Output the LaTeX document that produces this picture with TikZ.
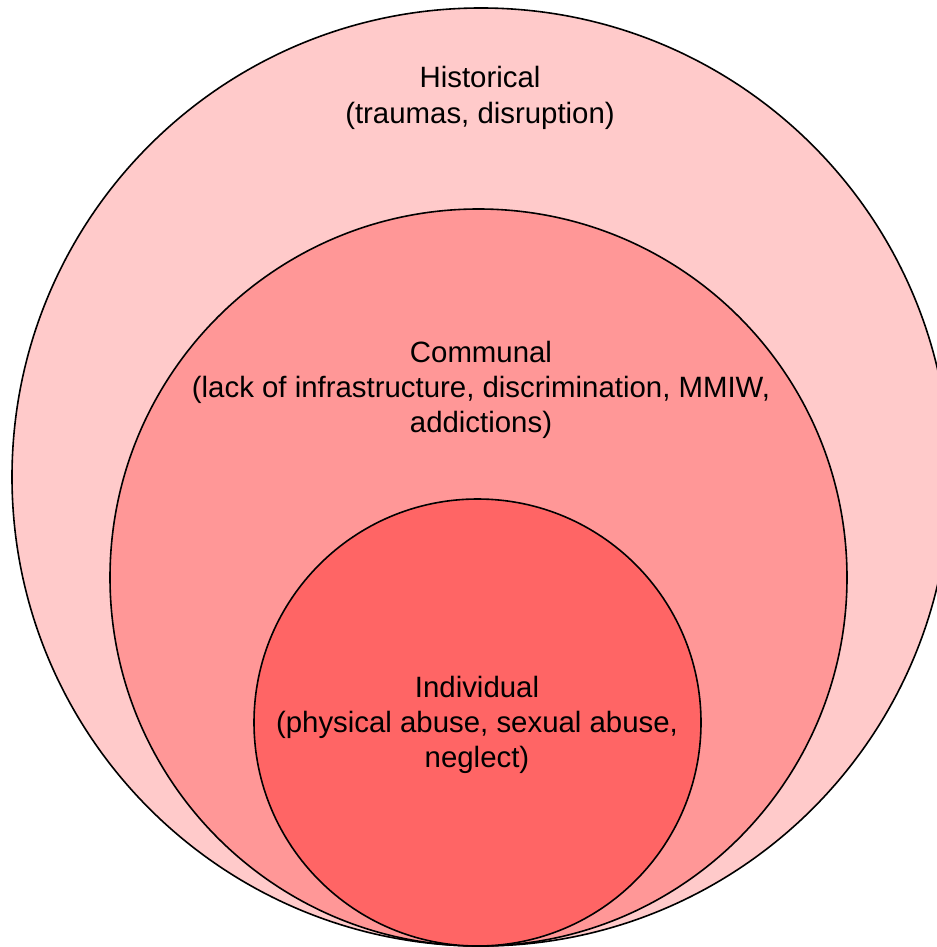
\documentclass[tikz,border=0pt]{standalone}
\usepackage{fontspec}
\setmainfont{Liberation Sans}
\definecolor{histfill}{HTML}{FFCACA}
\definecolor{commfill}{HTML}{FF9797}
\definecolor{indfill}{HTML}{FF6565}
\begin{document}
\begin{tikzpicture}[x=1bp,y=-1bp,
  ring/.style={circle, draw=black, line width=1.6bp, inner sep=0pt},
  label/.style={align=center, font=\fontsize{29.5}{35.5}\selectfont, inner sep=0pt}]
  \useasboundingbox (0,0) rectangle (937,947);
  % nested circles, all touching at the bottom
  \node[ring, fill=histfill, minimum size=938bp] (outer) at (481,477) {};
  \node[ring, fill=commfill, minimum size=737bp] (middle) at (478.5,577.5) {};
  \node[ring, fill=indfill, minimum size=447bp] (inner) at (477.5,722.5) {};
  % labels
  \node[label] (histtext) at (480,98) {Historical\\(traumas, disruption)};
  \node[label] (commtext) at (481,390) {Communal\\(lack of infrastructure, discrimination, MMIW,\\addictions)};
  \node[label] (indtext) at (477,725) {Individual\\(physical abuse, sexual abuse,\\neglect)};
\end{tikzpicture}
\end{document}
